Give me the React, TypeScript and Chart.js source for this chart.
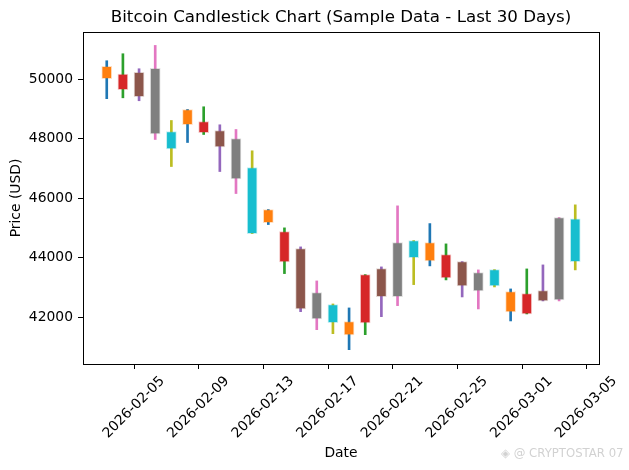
import React, { useEffect, useRef } from "react";
import { Chart, registerables } from "chart.js";

Chart.register(...registerables);

// ---- Data ----
const dates = [
  "2026-02-03", "2026-02-04", "2026-02-05", "2026-02-06", "2026-02-07",
  "2026-02-08", "2026-02-09", "2026-02-10", "2026-02-11", "2026-02-12",
  "2026-02-13", "2026-02-14", "2026-02-15", "2026-02-16", "2026-02-17",
  "2026-02-18", "2026-02-19", "2026-02-20", "2026-02-21", "2026-02-22",
  "2026-02-23", "2026-02-24", "2026-02-25", "2026-02-26", "2026-02-27",
  "2026-02-28", "2026-03-01", "2026-03-02", "2026-03-03", "2026-03-04",
];
const candleTimeOfDay = "07:00:00";

const opens = [
  50010, 50168, 49405, 50356, 48239, 48464, 48575, 48272, 48003, 47029,
  45180, 44877, 44306, 42827, 41818, 41852, 41808, 42692, 42692, 44575,
  44508, 44104, 43869, 43499, 43052, 42861, 42111, 42548, 42582, 45304,
];
const highs = [
  50615, 50850, 50346, 51129, 48608, 48978, 49069, 48464, 48306, 47590,
  45617, 45002, 44363, 43220, 42447, 42313, 43432, 43691, 45741, 44575,
  45146, 44464, 43869, 43590, 43600, 42951, 43623, 43758, 45348, 45775,
];
const lows = [
  49340, 49370, 49271, 47970, 47062, 47869, 48138, 46894, 46155, 44810,
  45113, 43466, 42188, 41583, 41449, 40911, 41415, 42020, 42390, 43096,
  43725, 43254, 42682, 42279, 43018, 41876, 42111, 42548, 42548, 43590,
];
const closes = [
  50424, 49640, 50222, 48161, 47657, 48978, 48195, 47724, 46649, 44810,
  45617, 43859, 42279, 41943, 42424, 41405, 43432, 43634, 44508, 44003,
  43893, 43321, 43052, 42884, 43600, 42178, 42793, 42894, 45348, 43869,
];

const xTickDates = [
  "2026-02-05", "2026-02-09", "2026-02-13", "2026-02-17",
  "2026-02-21", "2026-02-25", "2026-03-01", "2026-03-05",
];
const yTicks = [42000, 44000, 46000, 48000, 50000];
const yMin = 40430;
const yMax = 51580;
const xMarginDays = 1.47;

const palette = [
  "#1f77b4", "#ff7f0e", "#2ca02c", "#d62728", "#9467bd",
  "#8c564b", "#e377c2", "#7f7f7f", "#bcbd22", "#17becf",
];

const TITLE = "Bitcoin Candlestick Chart (Sample Data - Last 30 Days)";
const WATERMARK = "◈ @ CRYPTOSTAR 07";

// ---- helpers ----
const DAY = 86400000;
const toDays = (iso: string) => Date.parse(iso) / DAY;
const fmtDay = (v: number) => new Date(Math.round(v * DAY)).toISOString().slice(0, 10);
const tint = (hex: string, a: number) => {
  const n = parseInt(hex.slice(1), 16);
  return `rgba(${(n >> 16) & 255},${(n >> 8) & 255},${n & 255},${a})`;
};

const FONT = "'DejaVu Sans', sans-serif";

export default function App() {
  const ref = useRef<HTMLCanvasElement | null>(null);

  useEffect(() => {
    document.body.style.margin = "0";
    const canvas = ref.current;
    if (!canvas) return;

    const xs = dates.map((d) => toDays(`${d}T${candleTimeOfDay}Z`));
    const tickVals = xTickDates.map((d) => toDays(`${d}T00:00:00Z`));
    const wickColors = dates.map((_, i) => palette[(2 * i) % 10]);
    const bodyColors = dates.map((_, i) => palette[(2 * i + 1) % 10]);
    const bodyEdges = bodyColors.map((c) => tint(c, 0.25));

    const boxPlugin = {
      id: "boxSpines",
      afterDatasetsDraw(chart: any) {
        const { ctx, chartArea } = chart;
        ctx.save();
        ctx.strokeStyle = "#000";
        ctx.lineWidth = 1;
        ctx.strokeRect(
          Math.round(chartArea.left) + 0.5,
          Math.round(chartArea.top) + 0.5,
          Math.round(chartArea.right - chartArea.left),
          Math.round(chartArea.bottom - chartArea.top)
        );
        ctx.restore();
      },
    };

    const titlePlugin = {
      id: "axesTitle",
      afterDraw(chart: any) {
        const { ctx, chartArea } = chart;
        ctx.save();
        ctx.fillStyle = "#000";
        ctx.font = `16.67px ${FONT}`;
        ctx.textAlign = "center";
        ctx.textBaseline = "middle";
        ctx.fillText(TITLE, (chartArea.left + chartArea.right) / 2, 18);
        ctx.restore();
      },
    };

    const chart = new Chart(canvas, {
      type: "bar",
      data: {
        datasets: [
          {
            label: "wick",
            data: xs.map((x, i) => ({ x, y: [lows[i], highs[i]] })) as any,
            backgroundColor: wickColors,
            borderWidth: 0,
            barThickness: 2,
            grouped: false,
            order: 1,
          } as any,
          {
            label: "body",
            data: xs.map((x, i) => ({
              x,
              y: [Math.min(opens[i], closes[i]), Math.max(opens[i], closes[i])],
            })) as any,
            backgroundColor: bodyColors,
            borderColor: bodyEdges,
            borderWidth: 1,
            borderSkipped: false,
            barThickness: 10,
            grouped: false,
            order: 0,
          } as any,
        ],
      },
      options: {
        responsive: false,
        animation: false,
        maintainAspectRatio: false,
        layout: { padding: { left: 0, right: 30, top: 32, bottom: 0 } },
        font: { family: FONT },
        plugins: {
          legend: { display: false },
          tooltip: { enabled: false },
          title: { display: false },
        },
        scales: {
          x: {
            type: "linear",
            min: xs[0] - xMarginDays,
            max: xs[xs.length - 1] + xMarginDays,
            offset: false,
            grid: {
              display: true,
              offset: false,
              drawOnChartArea: false,
              drawTicks: true,
              tickLength: 5,
              tickColor: "#000",
              tickWidth: 1,
            },
            border: { display: true, color: "#000", width: 1 },
            ticks: {
              autoSkip: false,
              minRotation: 45,
              maxRotation: 45,
              labelOffset: 28,
              padding: 4,
              color: "#000",
              font: { family: FONT, size: 13.89 },
              callback: (v: any) => fmtDay(Number(v)),
            },
            afterBuildTicks: (s: any) => {
              s.ticks = tickVals.map((v) => ({ value: v }));
            },
            afterFit: (s: any) => {
              s.height = 106;
            },
            title: {
              display: true,
              text: "Date",
              color: "#000",
              font: { family: FONT, size: 13.89 },
              padding: { top: 0, bottom: 8.5 },
            },
          } as any,
          y: {
            type: "linear",
            min: yMin,
            max: yMax,
            grid: {
              display: true,
              drawOnChartArea: false,
              drawTicks: true,
              tickLength: 5,
              tickColor: "#000",
              tickWidth: 1,
            },
            border: { display: true, color: "#000", width: 1 },
            ticks: {
              padding: 5,
              color: "#000",
              font: { family: FONT, size: 13.89 },
              callback: (v: any) => String(v),
            },
            afterBuildTicks: (s: any) => {
              s.ticks = yTicks.map((v) => ({ value: v }));
            },
            afterFit: (s: any) => {
              s.width = 83;
            },
            title: {
              display: true,
              text: "Price (USD)",
              color: "#000",
              font: { family: FONT, size: 13.89 },
              padding: { top: 8, bottom: 0 },
            },
          } as any,
        },
      } as any,
      plugins: [boxPlugin, titlePlugin],
    });

    return () => chart.destroy();
  }, []);

  return (
    <div style={{ position: "relative", width: 629, height: 470, background: "#fff" }}>
      <canvas ref={ref} width={629} height={470} />
      <span
        style={{
          position: "absolute",
          left: 501,
          top: 446,
          fontFamily: FONT,
          fontSize: 11.7,
          color: "#d2d2d2",
          whiteSpace: "nowrap",
          lineHeight: "15px",
        }}
      >
        {WATERMARK}
      </span>
    </div>
  );
}
